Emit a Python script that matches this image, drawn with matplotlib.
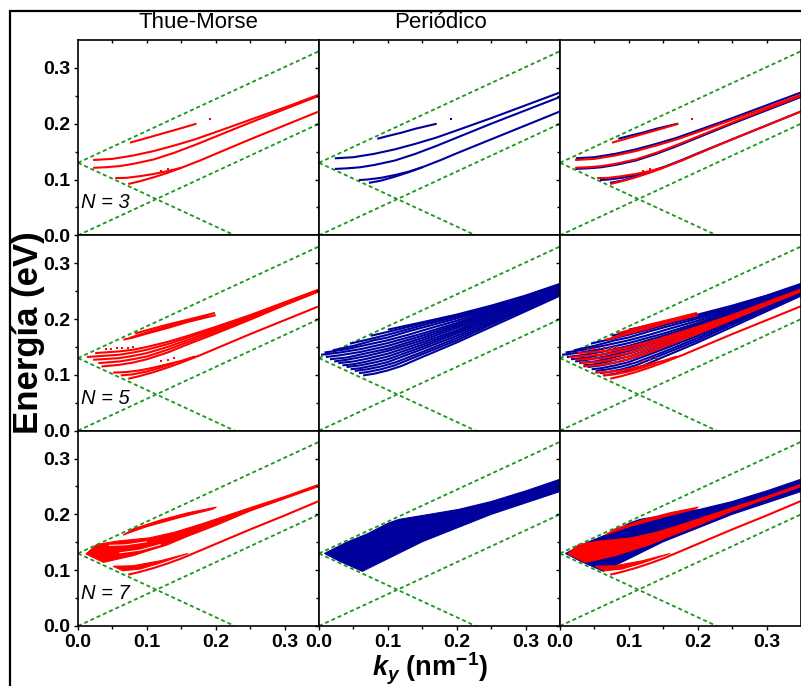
import numpy as np
import matplotlib.pyplot as plt
from matplotlib.patches import Rectangle

plt.rcParams['font.family'] = ['Liberation Sans', 'DejaVu Sans']
plt.rcParams['mathtext.fontset'] = 'custom'
plt.rcParams['mathtext.rm'] = 'Liberation Sans:bold'
plt.rcParams['mathtext.it'] = 'Liberation Sans:italic:bold'
plt.rcParams['mathtext.bf'] = 'Liberation Sans:bold'

# ---- datos (k_y en nm^-1, E en eV) ----
# conos (lineas verdes)
cone_up = [(0.0, 0.13), (0.35, 0.33)]
cone_low = [(0.0, 0.0), (0.35, 0.20)]
cone_down = [(0.0, 0.13), (0.2275, 0.0)]

# N = 3
tm3 = [
    [(0.0755, 0.166), (0.09, 0.171), (0.11, 0.178), (0.13, 0.185), (0.15, 0.192), (0.172, 0.200)],
    [(0.022, 0.135), (0.05, 0.137), (0.08, 0.143), (0.11, 0.151), (0.14, 0.161), (0.17, 0.172), (0.20, 0.185),
     (0.25, 0.207), (0.30, 0.229), (0.35, 0.252)],
    [(0.022, 0.121), (0.04, 0.122), (0.06, 0.124), (0.08, 0.128), (0.11, 0.136), (0.14, 0.148), (0.17, 0.162),
     (0.20, 0.177), (0.25, 0.202), (0.30, 0.226), (0.35, 0.250)],
    [(0.054, 0.1025), (0.07, 0.103), (0.09, 0.106), (0.11, 0.110), (0.13, 0.115), (0.15, 0.121)],
    [(0.073, 0.092), (0.09, 0.097), (0.11, 0.104), (0.13, 0.112), (0.15, 0.121), (0.177, 0.134), (0.20, 0.146),
     (0.25, 0.172), (0.30, 0.197), (0.35, 0.222)],
]
tm3_dots = [(0.192, 0.208), (0.12, 0.116), (0.13, 0.118)]
per3 = [
    [(0.0846, 0.173), (0.10, 0.178), (0.12, 0.184), (0.14, 0.191), (0.171, 0.200)],
    [(0.023, 0.138), (0.05, 0.140), (0.08, 0.146), (0.11, 0.154), (0.14, 0.164), (0.17, 0.175), (0.20, 0.188),
     (0.25, 0.210), (0.30, 0.233), (0.35, 0.256)],
    [(0.023, 0.119), (0.04, 0.120), (0.06, 0.122), (0.08, 0.126), (0.11, 0.134), (0.14, 0.146), (0.17, 0.160),
     (0.20, 0.175), (0.25, 0.200), (0.30, 0.224), (0.35, 0.248)],
    [(0.058, 0.099), (0.07, 0.100), (0.09, 0.103), (0.11, 0.108), (0.13, 0.114), (0.15, 0.122)],
    [(0.0725, 0.094), (0.09, 0.098), (0.11, 0.105), (0.13, 0.113), (0.15, 0.122), (0.177, 0.135), (0.20, 0.147),
     (0.25, 0.172), (0.30, 0.197), (0.35, 0.222)],
]
per3_dots = [(0.191, 0.208), (0.045, 0.120), (0.05, 0.120)]

# N = 5
tm5 = [
    [(0.083, 0.174), (0.10, 0.180), (0.13, 0.190), (0.16, 0.199), (0.199, 0.211)],
    [(0.066, 0.163), (0.08, 0.167), (0.10, 0.174), (0.13, 0.184), (0.16, 0.195), (0.20, 0.207)],
    [(0.075, 0.166), (0.10, 0.176), (0.13, 0.187), (0.16, 0.197), (0.19, 0.206)],
    [(0.025, 0.139), (0.06, 0.142), (0.08, 0.145), (0.10, 0.150), (0.13, 0.159), (0.16, 0.170), (0.20, 0.186),
     (0.25, 0.207), (0.30, 0.230), (0.35, 0.253)],
    [(0.013, 0.132), (0.06, 0.136), (0.08, 0.140), (0.10, 0.145), (0.13, 0.155), (0.16, 0.167), (0.20, 0.183),
     (0.25, 0.205), (0.30, 0.228), (0.35, 0.252)],
    [(0.022, 0.127), (0.06, 0.130), (0.08, 0.134), (0.10, 0.139), (0.13, 0.150), (0.16, 0.163), (0.20, 0.180),
     (0.25, 0.203), (0.30, 0.227), (0.35, 0.251)],
    [(0.0295, 0.121), (0.06, 0.124), (0.08, 0.128), (0.10, 0.133), (0.13, 0.145), (0.16, 0.159), (0.20, 0.177),
     (0.25, 0.201), (0.30, 0.226), (0.35, 0.250)],
    [(0.034, 0.115), (0.06, 0.118), (0.08, 0.122), (0.10, 0.128), (0.13, 0.140), (0.16, 0.155), (0.20, 0.174),
     (0.25, 0.199), (0.30, 0.225), (0.35, 0.250)],
    [(0.051, 0.104), (0.07, 0.105), (0.09, 0.108), (0.11, 0.113), (0.13, 0.119), (0.15, 0.125), (0.17, 0.133)],
    [(0.062, 0.099), (0.08, 0.101), (0.10, 0.106), (0.12, 0.113), (0.14, 0.121)],
    [(0.073, 0.093), (0.09, 0.098), (0.11, 0.105), (0.13, 0.113), (0.15, 0.122), (0.177, 0.135), (0.20, 0.147),
     (0.25, 0.173), (0.30, 0.198), (0.35, 0.223)],
]
tm5_dots = [(0.040, 0.147), (0.048, 0.147), (0.056, 0.148), (0.064, 0.148), (0.072, 0.149), (0.080, 0.150),
            (0.12, 0.124), (0.13, 0.127), (0.14, 0.130)]
per5 = [
    [(0.100, 0.181), (0.13, 0.189), (0.16, 0.197), (0.20, 0.208), (0.25, 0.224), (0.30, 0.242), (0.35, 0.263)],
    [(0.075, 0.170), (0.10, 0.177), (0.13, 0.186), (0.16, 0.195), (0.20, 0.206), (0.25, 0.222), (0.30, 0.241),
     (0.35, 0.262)],
    [(0.045, 0.156), (0.07, 0.163), (0.10, 0.172), (0.13, 0.182), (0.16, 0.192), (0.20, 0.204), (0.25, 0.220),
     (0.30, 0.240), (0.35, 0.262)],
    [(0.020, 0.144), (0.05, 0.152), (0.08, 0.162), (0.10, 0.167), (0.13, 0.178), (0.16, 0.188), (0.20, 0.201),
     (0.25, 0.218), (0.30, 0.239), (0.35, 0.261)],
    [(0.008, 0.140), (0.04, 0.146), (0.07, 0.154), (0.10, 0.162), (0.13, 0.172), (0.16, 0.183), (0.20, 0.197),
     (0.25, 0.216), (0.30, 0.238), (0.35, 0.261)],
    [(0.003, 0.136), (0.03, 0.140), (0.06, 0.146), (0.10, 0.157), (0.15, 0.174), (0.20, 0.193), (0.25, 0.214),
     (0.30, 0.237), (0.35, 0.260)],
    [(0.010, 0.132), (0.03, 0.135), (0.06, 0.141), (0.10, 0.152), (0.15, 0.170), (0.20, 0.190), (0.25, 0.212),
     (0.30, 0.235), (0.35, 0.259)],
    [(0.016, 0.128), (0.04, 0.131), (0.07, 0.139), (0.10, 0.147), (0.15, 0.166), (0.20, 0.187), (0.25, 0.210),
     (0.30, 0.233), (0.35, 0.257)],
    [(0.022, 0.124), (0.04, 0.127), (0.07, 0.134), (0.10, 0.143), (0.15, 0.162), (0.20, 0.184), (0.25, 0.207),
     (0.30, 0.231), (0.35, 0.255)],
    [(0.028, 0.121), (0.05, 0.124), (0.07, 0.129), (0.10, 0.138), (0.15, 0.158), (0.20, 0.180), (0.25, 0.205),
     (0.30, 0.229), (0.35, 0.253)],
    [(0.034, 0.117), (0.05, 0.119), (0.07, 0.124), (0.10, 0.133), (0.15, 0.154), (0.20, 0.177), (0.25, 0.202),
     (0.30, 0.227), (0.35, 0.251)],
    [(0.040, 0.114), (0.06, 0.117), (0.08, 0.122), (0.10, 0.128), (0.15, 0.150), (0.20, 0.174), (0.25, 0.199),
     (0.30, 0.225), (0.35, 0.249)],
    [(0.046, 0.110), (0.06, 0.112), (0.08, 0.117), (0.10, 0.123), (0.15, 0.146), (0.20, 0.170), (0.25, 0.196),
     (0.30, 0.222), (0.35, 0.247)],
    [(0.052, 0.107), (0.07, 0.110), (0.09, 0.115), (0.11, 0.122), (0.15, 0.141), (0.20, 0.166), (0.25, 0.193),
     (0.30, 0.220), (0.35, 0.246)],
    [(0.058, 0.103), (0.07, 0.105), (0.09, 0.110), (0.11, 0.117), (0.15, 0.137), (0.20, 0.162), (0.25, 0.190),
     (0.30, 0.217), (0.35, 0.244)],
    [(0.064, 0.099), (0.08, 0.102), (0.10, 0.108), (0.12, 0.116), (0.15, 0.132), (0.20, 0.158), (0.25, 0.186),
     (0.30, 0.214), (0.35, 0.242)],
]

# N = 7 (bandas casi continuas, contorno)
tm7_bands = [
    [(0.066, 0.163), (0.08, 0.174), (0.12, 0.190), (0.16, 0.203), (0.201, 0.213), (0.195, 0.209), (0.15, 0.195),
     (0.10, 0.178), (0.07, 0.165)],
    [(0.0116, 0.129), (0.027, 0.146), (0.056, 0.152), (0.104, 0.158), (0.14, 0.168), (0.177, 0.182), (0.25, 0.212),
     (0.30, 0.232), (0.35, 0.254), (0.35, 0.250), (0.30, 0.228), (0.25, 0.206), (0.20, 0.180), (0.16, 0.161),
     (0.129, 0.145), (0.10, 0.134), (0.080, 0.126), (0.055, 0.119), (0.037, 0.114)],
    [(0.051, 0.107), (0.08, 0.108), (0.12, 0.117), (0.16, 0.130), (0.12, 0.113), (0.09, 0.102), (0.065, 0.099)],
]
tm7 = [
    [(0.073, 0.092), (0.09, 0.097), (0.11, 0.104), (0.13, 0.112), (0.15, 0.121), (0.177, 0.135), (0.20, 0.147),
     (0.25, 0.173), (0.30, 0.198), (0.35, 0.224)],
    [(0.03, 0.140), (0.06, 0.141), (0.10, 0.147), (0.14, 0.160)],
]
tm7_gaps = [
    [(0.045, 0.1445), (0.07, 0.1455), (0.10, 0.151)],
    [(0.06, 0.131), (0.09, 0.136), (0.12, 0.146)],
]
per7_bands = [
    [(0.008, 0.130), (0.04, 0.150), (0.07, 0.165), (0.10, 0.184), (0.116, 0.191), (0.16, 0.200), (0.203, 0.209),
     (0.25, 0.223), (0.30, 0.242), (0.35, 0.263), (0.35, 0.241), (0.25, 0.200), (0.15, 0.151), (0.063, 0.098),
     (0.03, 0.116)],
]

red = '#ff0000'
blue = '#00009c'
green = '#1a961a'


def draw_lines(ax, curves, color, lw=1.5):
    for c in curves:
        xs, ys = zip(*c)
        ax.plot(xs, ys, color=color, lw=lw, solid_capstyle='butt', solid_joinstyle='round')


def draw_bands(ax, bands, color):
    for b in bands:
        xs, ys = zip(*b)
        ax.fill(xs, ys, color=color, lw=0.8)


def draw_dots(ax, dots, color):
    if not dots:
        return
    xs, ys = zip(*dots)
    ax.plot(xs, ys, 's', color=color, ms=1.8, mew=0, ls='none')


fig, axes = plt.subplots(3, 3, sharex=True, sharey=True, figsize=(8.01, 6.86), dpi=100)
fig.subplots_adjust(left=78 / 801, right=801 / 801, top=1 - 40 / 686, bottom=1 - 626 / 686,
                    wspace=0, hspace=0)

rows = [
    ('N = 3', tm3, [], tm3_dots, [], per3, [], per3_dots),
    ('N = 5', tm5, [], tm5_dots, [], per5, [], []),
    ('N = 7', tm7, tm7_bands, [], tm7_gaps, [], per7_bands, []),
]

for i, (lab, tm, tm_b, tm_d, tm_g, per, per_b, per_d) in enumerate(rows):
    for j in range(3):
        ax = axes[i, j]
        for cone in (cone_up, cone_low, cone_down):
            xs, ys = zip(*cone)
            ax.plot(xs, ys, color=green, lw=1.3, dashes=(2.2, 1.6))
        if j in (1, 2):
            draw_bands(ax, per_b, blue)
            draw_lines(ax, per, blue)
            draw_dots(ax, per_d, blue)
        if j in (0, 2):
            draw_bands(ax, tm_b, red)
            draw_lines(ax, tm, red)
            draw_dots(ax, tm_d, red)
            if j == 0:
                draw_lines(ax, tm_g, 'white', lw=0.7)
        if j == 0:
            ax.text(0.004, 0.058, lab, fontsize=14.5, style='italic', va='center', ha='left')

        ax.set_xlim(0, 0.35)
        ax.set_ylim(0, 0.35)
        ax.set_xticks([0.0, 0.1, 0.2, 0.3])
        ax.set_yticks([0.0, 0.1, 0.2, 0.3])
        ax.set_xticks(np.arange(0.05, 0.35, 0.1), minor=True)
        ax.set_yticks(np.arange(0.05, 0.35, 0.1), minor=True)
        ax.tick_params(which='major', direction='out', length=3, width=1.0, labelsize=14, pad=2.5)
        ax.tick_params(which='minor', direction='out', length=2.5, width=1.0)
        for sp in ax.spines.values():
            sp.set_linewidth(1.2)
        ax.xaxis.set_major_formatter(plt.FormatStrFormatter('%.1f'))
        ax.yaxis.set_major_formatter(plt.FormatStrFormatter('%.1f'))
        if i == 0:
            sec = ax.secondary_xaxis('top')
            sec.set_xticks(np.arange(0.05, 0.35, 0.05))
            sec.tick_params(direction='in', length=2.5, width=1.0, labeltop=False)
            sec.spines['top'].set_visible(False)

for ax in axes.flat:
    for t in ax.get_xticklabels() + ax.get_yticklabels():
        t.set_fontweight('bold')

fig.text(198.5 / 801, 1 - 23 / 686, 'Thue-Morse', fontsize=16, ha='center', va='center')
fig.text(440 / 801, 1 - 23 / 686, 'Periódico', fontsize=16, ha='center', va='center')
fig.text(29 / 801, 1 - 333 / 686, 'Energía (eV)', fontsize=25, fontweight='bold',
         rotation=90, ha='center', va='center')
fig.text(430 / 801, 1 - 651 / 686, r'$k_y$ (nm$^{-1}$)', fontsize=19.5, fontweight='bold',
         ha='center', va='top')

# marco exterior
fig.patches.append(Rectangle((10 / 801, -0.1), 1.2, 1 - 11 / 686 + 0.1, transform=fig.transFigure,
                             fill=False, ec='black', lw=1.6))

fig.savefig('out.png', dpi=100)
